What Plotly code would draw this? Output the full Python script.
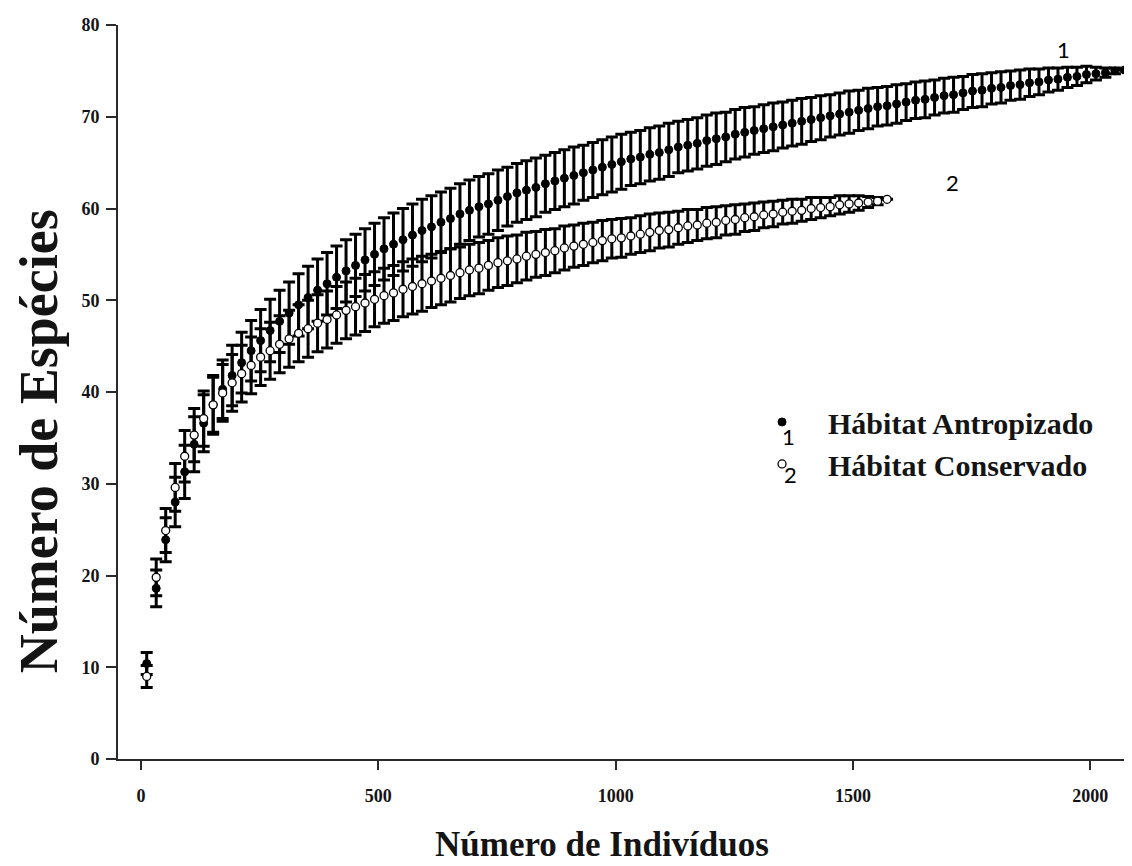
import plotly.graph_objects as go

# Sample sizes (number of individuals)
individuos = [12, 32, 52, 72, 92, 112, 132, 152, 172, 192,
              212, 232, 252, 272, 292, 312, 332, 352, 372, 392,
              412, 432, 452, 472, 492, 512, 532, 552, 572, 592,
              612, 632, 652, 672, 692, 712, 732, 752, 772, 792,
              812, 832, 852, 872, 892, 912, 932, 952, 972, 992,
              1012, 1032, 1052, 1072, 1092, 1112, 1132, 1152, 1172, 1192,
              1212, 1232, 1252, 1272, 1292, 1312, 1332, 1352, 1372, 1392,
              1412, 1432, 1452, 1472, 1492, 1512, 1532, 1552, 1572, 1592,
              1612, 1632, 1652, 1672, 1692, 1712, 1732, 1752, 1772, 1792,
              1812, 1832, 1852, 1872, 1892, 1912, 1932, 1952, 1972, 1992,
              2012, 2032, 2052, 2072]

# Hábitat Antropizado: mean species and SD
antropizado = [10.4, 18.6, 23.9, 28.0, 31.3, 34.3, 36.6, 38.6, 40.3, 41.8,
               43.2, 44.5, 45.6, 46.7, 47.7, 48.6, 49.5, 50.3, 51.1, 51.8,
               52.5, 53.2, 53.8, 54.4, 55.0, 55.6, 56.1, 56.6, 57.1, 57.6,
               58.0, 58.5, 58.9, 59.4, 59.8, 60.2, 60.5, 60.9, 61.3, 61.7,
               62.0, 62.3, 62.7, 63.0, 63.3, 63.6, 63.9, 64.2, 64.5, 64.8,
               65.1, 65.4, 65.6, 65.9, 66.1, 66.4, 66.7, 66.9, 67.1, 67.4,
               67.6, 67.8, 68.1, 68.3, 68.5, 68.7, 68.9, 69.1, 69.3, 69.5,
               69.7, 69.9, 70.1, 70.3, 70.5, 70.7, 70.9, 71.1, 71.2, 71.4,
               71.6, 71.8, 71.9, 72.1, 72.3, 72.4, 72.6, 72.8, 72.9, 73.1,
               73.2, 73.4, 73.5, 73.7, 73.8, 74.0, 74.1, 74.3, 74.4, 74.6,
               74.7, 74.8, 75.0, 75.1]
antropizado_sd = [1.2, 2.0, 2.4, 2.7, 2.9, 3.0, 3.1, 3.2, 3.2, 3.3,
                  3.3, 3.3, 3.4, 3.4, 3.4, 3.4, 3.4, 3.4, 3.4, 3.4,
                  3.4, 3.4, 3.4, 3.4, 3.4, 3.4, 3.4, 3.4, 3.4, 3.4,
                  3.4, 3.3, 3.3, 3.3, 3.3, 3.3, 3.3, 3.3, 3.2, 3.2,
                  3.2, 3.2, 3.1, 3.1, 3.1, 3.1, 3.0, 3.0, 3.0, 3.0,
                  3.0, 2.9, 2.9, 2.9, 2.9, 2.9, 2.8, 2.8, 2.8, 2.8,
                  2.8, 2.7, 2.7, 2.7, 2.6, 2.6, 2.6, 2.5, 2.5, 2.5,
                  2.4, 2.4, 2.3, 2.3, 2.3, 2.2, 2.2, 2.1, 2.1, 2.1,
                  2.0, 2.0, 2.0, 1.9, 1.9, 1.9, 1.8, 1.8, 1.8, 1.7,
                  1.7, 1.6, 1.6, 1.5, 1.4, 1.3, 1.2, 1.1, 1.0, 0.9,
                  0.7, 0.5, 0.3, 0.0]

# Hábitat Conservado: mean species and SD
conservado = [9.0, 19.8, 24.9, 29.6, 33.0, 35.3, 37.1, 38.6, 39.9, 41.0,
              42.0, 42.9, 43.8, 44.5, 45.2, 45.8, 46.4, 46.9, 47.5, 47.9,
              48.4, 48.9, 49.3, 49.7, 50.1, 50.5, 50.8, 51.2, 51.5, 51.8,
              52.1, 52.4, 52.7, 53.0, 53.3, 53.5, 53.8, 54.1, 54.3, 54.5,
              54.8, 55.0, 55.2, 55.4, 55.7, 55.9, 56.1, 56.3, 56.5, 56.7,
              56.8, 57.0, 57.2, 57.4, 57.6, 57.7, 57.9, 58.1, 58.2, 58.4,
              58.5, 58.7, 58.8, 59.0, 59.1, 59.3, 59.4, 59.6, 59.7, 59.8,
              60.0, 60.1, 60.2, 60.4, 60.5, 60.6, 60.7, 60.8, 61.0]
conservado_sd = [1.2, 2.0, 2.4, 2.6, 2.8, 2.9, 3.0, 3.0, 3.1, 3.1,
                 3.1, 3.1, 3.1, 3.1, 3.1, 3.1, 3.1, 3.1, 3.1, 3.1,
                 3.1, 3.1, 3.1, 3.1, 3.0, 3.0, 3.0, 3.0, 3.0, 3.0,
                 2.9, 2.9, 2.9, 2.8, 2.8, 2.8, 2.7, 2.7, 2.7, 2.6,
                 2.6, 2.5, 2.5, 2.4, 2.4, 2.3, 2.3, 2.2, 2.2, 2.1,
                 2.1, 2.0, 2.0, 2.0, 1.9, 1.9, 1.8, 1.8, 1.7, 1.7,
                 1.7, 1.6, 1.6, 1.5, 1.5, 1.4, 1.4, 1.3, 1.3, 1.2,
                 1.2, 1.1, 1.0, 1.0, 0.9, 0.8, 0.6, 0.4, 0.0]

individuos_cons = individuos[:len(conservado)]

x_ticks = [0, 500, 1000, 1500, 2000]
y_ticks = [0, 10, 20, 30, 40, 50, 60, 70, 80]

assert len(individuos) == len(antropizado) == len(antropizado_sd)
assert len(conservado) == len(conservado_sd)

SERIF = "Liberation Serif"
INK = "#141414"

fig = go.Figure()
fig.add_trace(go.Scatter(
    x=individuos, y=antropizado, mode="markers", name="Hábitat Antropizado",
    marker=dict(symbol="circle", size=8, color="black", line=dict(color="black", width=1)),
    error_y=dict(type="data", array=antropizado_sd, visible=True, color="black",
                 thickness=3, width=6),
))
fig.add_trace(go.Scatter(
    x=individuos_cons, y=conservado, mode="markers", name="Hábitat Conservado",
    marker=dict(symbol="circle", size=8, color="white", line=dict(color="black", width=1.3)),
    error_y=dict(type="data", array=conservado_sd, visible=True, color="black",
                 thickness=3, width=6),
))

axis_common = dict(
    showline=True, linecolor="#2a2a2a", linewidth=2,
    ticks="outside", tickcolor="#2a2a2a", tickwidth=2,
    showgrid=False, zeroline=False, automargin=False,
    tickfont=dict(family=SERIF, size=18, color=INK, weight="bold"),
)

# the page body adds an 8 px offset, so the figure is sized to fit the viewport
fig.update_layout(
    width=1124, height=858,
    margin=dict(l=110, r=0, t=17, b=107),
    paper_bgcolor="white", plot_bgcolor="white",
    showlegend=True,
    legend=dict(
        x=0.6095, xanchor="left", y=0.4946, yanchor="top",
        bgcolor="rgba(0,0,0,0)", itemwidth=82,
        font=dict(family=SERIF, size=30, color=INK, weight="bold"),
    ),
    xaxis=dict(range=[-48.5, 2088], tickvals=x_ticks, ticklen=9, ticklabelstandoff=10,
               **axis_common),
    yaxis=dict(range=[0, 80], tickvals=y_ticks, ticklen=10, ticklabelstandoff=3,
               **axis_common),
)

# axis titles
fig.add_annotation(x=0.477, y=-0.117, xref="paper", yref="paper", text="Número de Indivíduos",
                   showarrow=False, xanchor="center", yanchor="middle",
                   font=dict(family=SERIF, size=35, color=INK, weight="bold"))
fig.add_annotation(x=-0.0779, y=0.433, xref="paper", yref="paper", text="Número de Espécies",
                   showarrow=False, textangle=-90, xanchor="center", yanchor="middle",
                   font=dict(family=SERIF, size=54, color=INK, weight="bold"))

label_font = dict(family="Lato", size=22, color="black")
fig.add_annotation(x=1943, y=77.3, xref="x", yref="y", text="1", showarrow=False, font=label_font)
fig.add_annotation(x=1709, y=62.8, xref="x", yref="y", text="2", showarrow=False, font=label_font)
fig.add_annotation(x=0.661, y=0.4387, xref="paper", yref="paper", text="1", showarrow=False, font=label_font)
fig.add_annotation(x=0.663, y=0.387, xref="paper", yref="paper", text="2", showarrow=False, font=label_font)

fig.write_html("out.html")
